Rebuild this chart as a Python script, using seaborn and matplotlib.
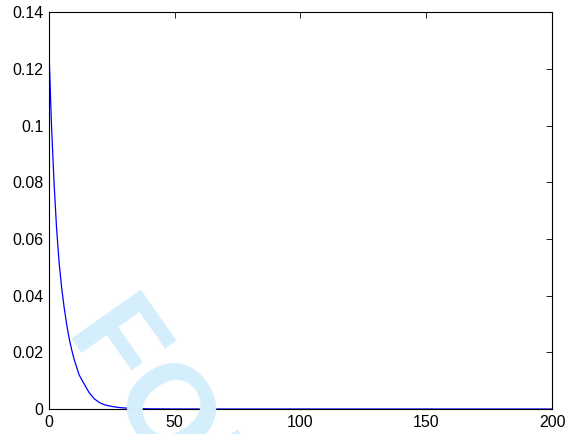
import matplotlib
matplotlib.use("Agg")
from matplotlib import pyplot as plt
from matplotlib.ticker import FormatStrFormatter
import seaborn as sns

# values
x_vals = [0, 1, 2, 3, 4, 5, 6, 7, 8, 9, 10, 12, 14, 16, 18, 20, 22, 25, 28,
          32, 36, 40, 50, 75, 100, 150, 200]
y_vals = [0.1266, 0.1, 0.08, 0.064, 0.052, 0.043, 0.036, 0.030, 0.025, 0.021,
          0.0175, 0.012, 0.0088, 0.0057, 0.0036, 0.0023, 0.0015, 0.0009,
          0.0005, 0.00025, 0.00012, 0.00006, 0.00001, 0.0, 0.0, 0.0, 0.0]

x_ticks = [0, 50, 100, 150, 200]
y_ticks = [0, 0.02, 0.04, 0.06, 0.08, 0.1, 0.12, 0.14]

sns.set_style("white")
plt.rcParams['font.family'] = ['Liberation Sans', 'DejaVu Sans']

fig = plt.figure(figsize=(5.65, 4.34), dpi=100)
ax = fig.add_axes([0.0867, 0.0576, 0.977 - 0.0867, 0.972 - 0.0576])
ax.patch.set_alpha(0)

# watermark behind the plot
fig.text(0.117, 0.237, "FOR REVIEW", fontsize=88, fontweight='bold',
         color='#d4effb', rotation=-55, rotation_mode='anchor',
         ha='left', va='baseline', zorder=0)

sns.lineplot(x=x_vals, y=y_vals, ax=ax, color='#0000ff', linewidth=0.9)

ax.set_xlim(0, 200)
ax.set_ylim(0, 0.14)
ax.set_xticks(x_ticks)
ax.set_yticks(y_ticks)
ax.yaxis.set_major_formatter(FormatStrFormatter('%g'))
ax.tick_params(direction='in', length=4, width=0.6, top=True, right=True,
               labelsize=11.5, colors='black', pad=4)
for s in ax.spines.values():
    s.set_color('black')
    s.set_linewidth(0.8)
ax.set_xlabel('')
ax.set_ylabel('')

fig.savefig('out.png', dpi=100)
